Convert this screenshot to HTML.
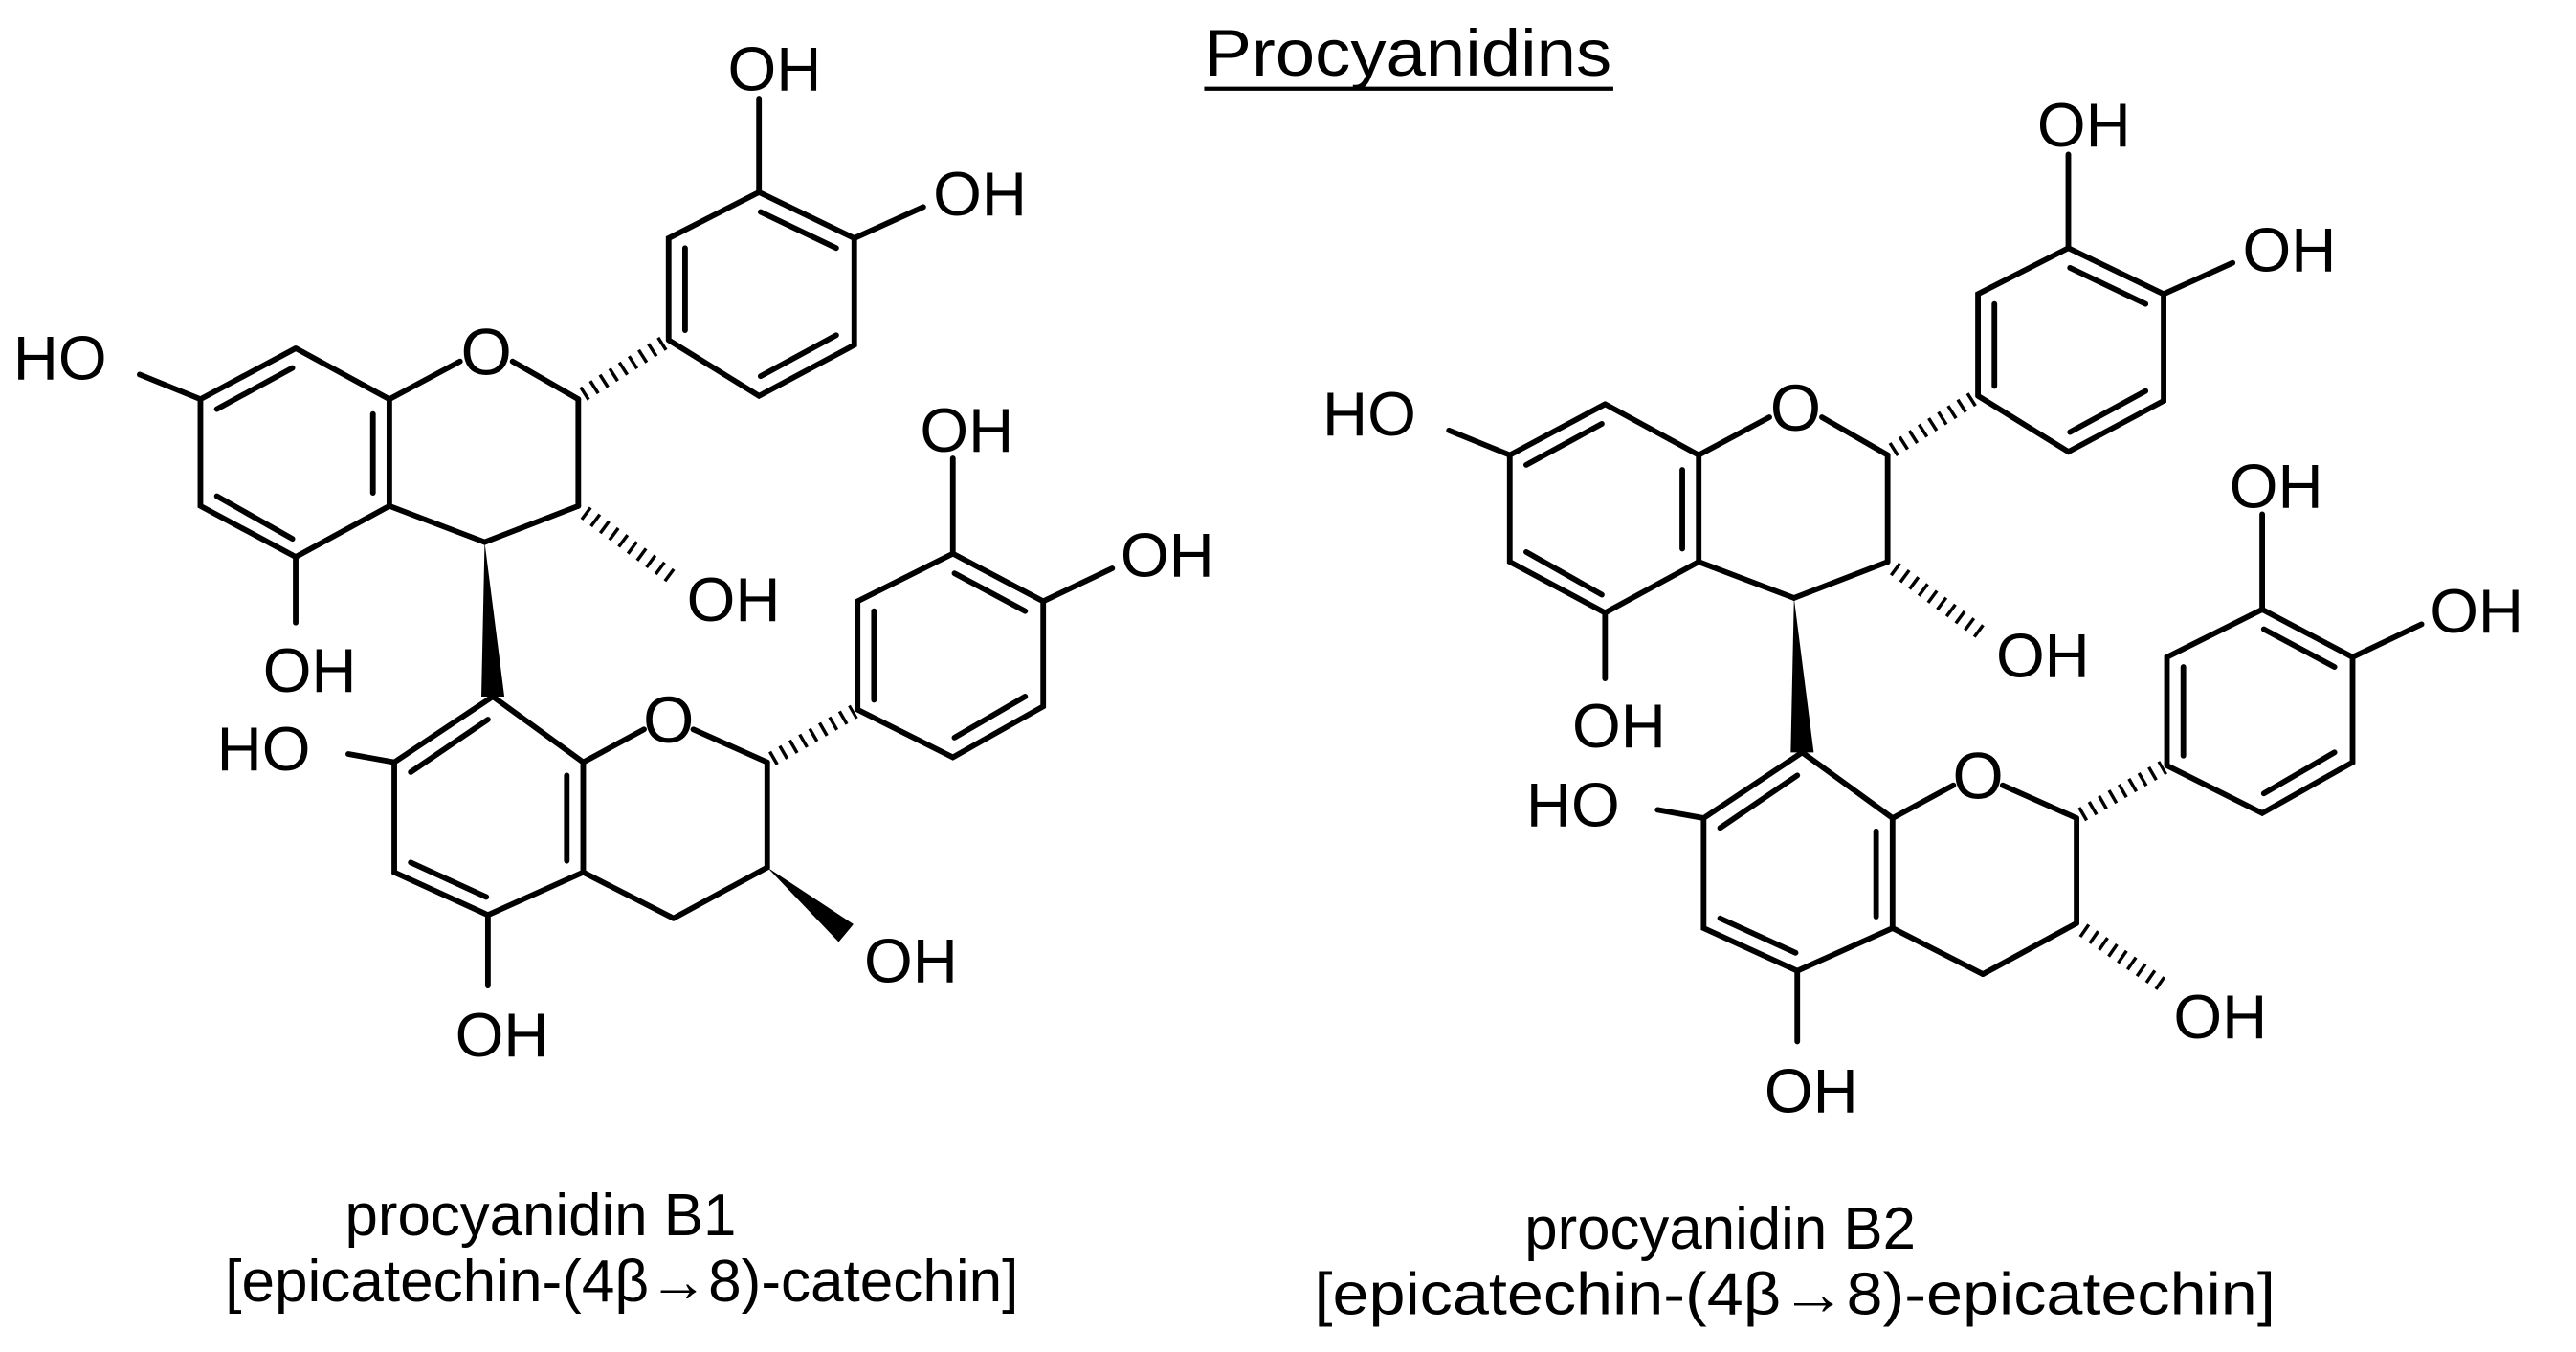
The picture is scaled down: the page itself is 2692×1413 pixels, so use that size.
<!DOCTYPE html>
<html><head><meta charset="utf-8"><style>
html,body{margin:0;padding:0;background:#fff;}
svg{display:block;}
text{font-family:"Liberation Sans",Arial,sans-serif;fill:#000;}
.a{font-size:38px;}
.o{font-size:40px;text-anchor:middle;}
.c{font-size:36px;}
</style></head><body>
<svg width="2692" height="1413" viewBox="0 0 1568 823" xmlns="http://www.w3.org/2000/svg">
<defs>
<g id="core" stroke="#000" stroke-width="3.4" fill="none" stroke-linecap="round">
  <polyline points="180,212 122,243 122,308 180,339 237,308 237,243 180,212"/>
  <line x1="132" y1="249" x2="178" y2="224"/>
  <line x1="227" y1="252" x2="227" y2="300"/>
  <line x1="178" y1="328" x2="132" y2="302"/>
  <line x1="122" y1="243" x2="85" y2="228"/>
  <line x1="180" y1="339" x2="180" y2="379"/>
  <line x1="237" y1="243" x2="280" y2="220"/>
  <line x1="312" y1="220" x2="352" y2="243"/>
  <line x1="352" y1="243" x2="352" y2="308"/>
  <line x1="352" y1="308" x2="295" y2="330"/>
  <line x1="295" y1="330" x2="237" y2="308"/>
  <line x1="355" y1="240" x2="405" y2="208" stroke-width="9" stroke-dasharray="2 5" stroke-linecap="butt"/>
  <line x1="356" y1="312" x2="410" y2="352" stroke-width="9" stroke-dasharray="2 5" stroke-linecap="butt"/>
  <polyline points="407,207 407,145 462,117 520,145 520,210 462,241 407,207"/>
  <line x1="417" y1="201" x2="417" y2="151"/>
  <line x1="463" y1="129" x2="509" y2="151"/>
  <line x1="509" y1="204" x2="463" y2="229"/>
  <line x1="462" y1="117" x2="462" y2="60"/>
  <line x1="520" y1="145" x2="562" y2="126"/>
  <polygon points="295,330 293,424 307,424" fill="#000" stroke="none"/>
  <polyline points="300,424 240,464 240,531 297,557 355,531 355,464 300,424"/>
  <line x1="250" y1="470" x2="297" y2="438"/>
  <line x1="345" y1="472" x2="345" y2="524"/>
  <line x1="296" y1="546" x2="250" y2="525"/>
  <line x1="240" y1="464" x2="212" y2="459"/>
  <line x1="297" y1="557" x2="297" y2="600"/>
  <line x1="355" y1="464" x2="392" y2="444"/>
  <line x1="422" y1="444" x2="467" y2="464"/>
  <line x1="467" y1="464" x2="467" y2="528"/>
  <line x1="467" y1="528" x2="410" y2="559"/>
  <line x1="410" y1="559" x2="355" y2="531"/>
  <line x1="470" y1="462" x2="520" y2="433" stroke-width="9" stroke-dasharray="2 5" stroke-linecap="butt"/>
  <polyline points="522,432 522,366 580,337 635,366 635,430 580,461 522,432"/>
  <line x1="532" y1="426" x2="532" y2="372"/>
  <line x1="581" y1="349" x2="624" y2="372"/>
  <line x1="624" y1="424" x2="581" y2="449"/>
  <line x1="580" y1="337" x2="580" y2="279"/>
  <line x1="635" y1="366" x2="677" y2="346"/>
</g>
<g id="labels" class="a">
<text x="8" y="231">HO</text>
<text x="160" y="421">OH</text>
<text x="418" y="378">OH</text>
<text x="443" y="55">OH</text>
<text x="568" y="131">OH</text>
<text x="132" y="469">HO</text>
<text x="277" y="643">OH</text>
<text x="526" y="598">OH</text>
<text x="560" y="275">OH</text>
<text x="682" y="351">OH</text>
<text x="296" y="228" class="o">O</text>
<text x="407" y="452" class="o">O</text>
</g>
</defs>

<text x="733" y="46" style="font-size:40px" textLength="248" lengthAdjust="spacingAndGlyphs">Procyanidins</text>
<line x1="733" y1="54" x2="982" y2="54" stroke="#000" stroke-width="2.5"/>

<use href="#core"/>
<polygon points="467,528 510.5,573.4 519.5,562.6" fill="#000"/>
<use href="#labels"/>
<text x="210" y="752" class="c">procyanidin B1</text>
<text x="137" y="792" class="c" textLength="483" lengthAdjust="spacingAndGlyphs">[epicatechin-(4β→8)-catechin]</text>

<g transform="translate(797,34)">
<use href="#core"/>
<line x1="471" y1="532" x2="520" y2="566" stroke="#000" stroke-width="9" stroke-dasharray="2 5"/>
<use href="#labels"/>
</g>
<text x="928" y="760" class="c">procyanidin B2</text>
<text x="800" y="800" class="c" textLength="585" lengthAdjust="spacingAndGlyphs">[epicatechin-(4β→8)-epicatechin]</text>
</svg>
</body></html>
